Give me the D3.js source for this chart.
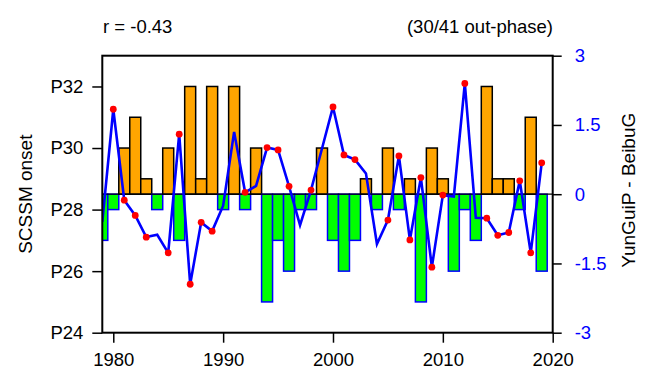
<!DOCTYPE html>
<html><head><meta charset="utf-8">
<script src="https://cdn.jsdelivr.net/npm/d3@7"></script>
<style>body{margin:0;background:#fff}svg{display:block}text{font-family:"Liberation Sans",Arial,sans-serif}</style>
</head><body><svg id="c" width="647" height="370"></svg>
<script>
const years = [1979,1980,1981,1982,1983,1984,1985,1986,1987,1988,1989,1990,1991,1992,1993,1994,1995,1996,1997,1998,1999,2000,2001,2002,2003,2004,2005,2006,2007,2008,2009,2010,2011,2012,2013,2014,2015,2016,2017,2018,2019];
const onset = [27,28,30,31,29,28,30,27,32,29,32,28,32,28,30,25,27,26,28,28,30,27,26,27,29,28,30,28,29,25,30,29,26,28,27,32,29,29,28,31,26];
const index = [-0.60,1.84,-0.13,-0.46,-0.93,-0.88,-1.27,1.30,-1.95,-0.61,-0.80,-0.25,1.35,0.04,0.18,1.01,0.96,0.17,-0.67,0.09,0.99,1.89,0.85,0.75,0.45,-1.08,-0.56,0.83,-0.99,0.36,-1.58,-0.02,-0.05,2.40,-0.51,-0.52,-0.89,-0.83,0.29,-1.27,0.68];
const baseline = 28.5;
const leftTicks = [24,26,28,30,32];
const rightTicks = [3,1.5,0,-1.5,-3];
const xTicks = [1980,1990,2000,2010,2020];
const textR = "r = -0.43";
const textPhase = "(30/41 out-phase)";
const yLabelL = "SCSSM onset";
const yLabelR = "YunGuiP - BeibuG";

const svg = d3.select("#c");
const L=102.3, R=552.7, T=55.7, B=332.7;
const x = d3.scaleLinear().domain([1979,2020]).range([L,R]);
const yL = d3.scaleLinear().domain([24,33]).range([B,T]);
const yR = d3.scaleLinear().domain([-3,3]).range([B,T]);
const step = x(1980)-x(1979);

svg.append("clipPath").attr("id","clip").append("rect").attr("x",L).attr("y",T).attr("width",R-L).attr("height",B-T);
const g = svg.append("g").attr("clip-path","url(#clip)");

const data = years.map((yr,i)=>({yr, p:onset[i], v:index[i]}));
g.selectAll("rect.bar").data(data).enter().append("rect")
  .attr("x",d=>x(d.yr)-step/2)
  .attr("width",step)
  .attr("y",d=>Math.min(yL(d.p),yL(baseline)))
  .attr("height",d=>Math.abs(yL(d.p)-yL(baseline)))
  .attr("fill",d=>d.p>baseline?"#FFA500":"#00FF00")
  .attr("stroke",d=>d.p>baseline?"#000":"#0000FF")
  .attr("stroke-width",1.5);

g.append("line").attr("x1",L).attr("x2",R).attr("y1",yL(baseline)).attr("y2",yL(baseline)).attr("stroke","#000").attr("stroke-width",1.2);

const line = d3.line().x(d=>x(d.yr)).y(d=>yR(d.v));
g.append("path").datum(data).attr("d",line).attr("fill","none").attr("stroke","#0000FF").attr("stroke-width",2.6).attr("stroke-linejoin","miter");

g.selectAll("circle").data(data.filter(d=>(d.p-baseline)*d.v<0)).enter().append("circle")
  .attr("cx",d=>x(d.yr)).attr("cy",d=>yR(d.v)).attr("r",3.4).attr("fill","#FF0000");

// frame
svg.append("rect").attr("x",L).attr("y",T).attr("width",R-L).attr("height",B-T).attr("fill","none").attr("stroke","#000").attr("stroke-width",2);

// axes
const fs = 18.5;
const ax = svg.append("g").attr("transform",`translate(0,${B})`).call(d3.axisBottom(x).tickValues(xTicks).tickFormat(d=>String(d)).tickSize(10).tickPadding(6));
const al = svg.append("g").attr("transform",`translate(${L},0)`).call(d3.axisLeft(yL).tickValues(leftTicks).tickFormat(d=>"P"+d).tickSize(10).tickPadding(9));
const ar = svg.append("g").attr("transform",`translate(${R},0)`).call(d3.axisRight(yR).tickValues(rightTicks).tickFormat(d=>String(d)).tickSize(9).tickPadding(13));
[ax,al,ar].forEach(a=>{a.select(".domain").remove(); a.selectAll("line").attr("stroke","#000").attr("stroke-width",1.5); a.selectAll("text").attr("font-size",fs).attr("font-family","Liberation Sans, Arial, sans-serif").attr("fill","#000");});
ar.selectAll("text").attr("fill","#0000FF");
ax.selectAll("text").attr("dy","0.95em");

svg.append("text").attr("x",103).attr("y",33).attr("font-size",fs).text(textR);
svg.append("text").attr("x",553).attr("y",33).attr("font-size",fs).attr("text-anchor","end").text(textPhase);
svg.append("text").attr("transform",`translate(32,${(T+B)/2}) rotate(-90)`).attr("text-anchor","middle").attr("font-size",19).text(yLabelL);
svg.append("text").attr("transform",`translate(635,${(T+B)/2-4}) rotate(-90)`).attr("text-anchor","middle").attr("font-size",19).text(yLabelR);
</script></body></html>
